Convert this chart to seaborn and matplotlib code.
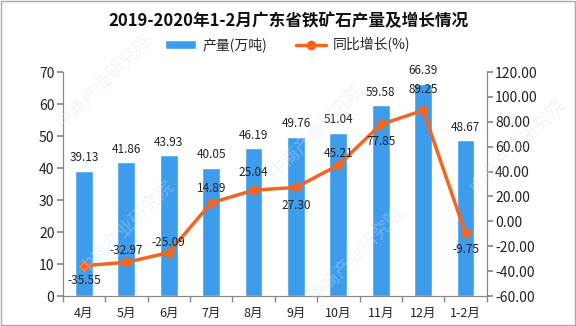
import numpy as np
import pandas as pd
import matplotlib
matplotlib.use("Agg")
import matplotlib.pyplot as plt
import seaborn as sns
from matplotlib.ticker import FixedLocator, FormatStrFormatter

sns.set_theme(style="white")
plt.rcParams['font.family'] = ['Noto Sans CJK SC', 'DejaVu Sans']
plt.rcParams['axes.unicode_minus'] = False

categories = ["4月", "5月", "6月", "7月", "8月", "9月", "10月", "11月", "12月", "1-2月"]
output = [39.13, 41.86, 43.93, 40.05, 46.19, 49.76, 51.04, 59.58, 66.39, 48.67]
growth = [-35.55, -32.97, -25.09, 14.89, 25.04, 27.30, 45.21, 77.85, 89.25, -9.75]
growth_label_offset = [-15, 12, 10, 14, 18, -18, 12, -17, 21, -16]

title = "2019-2020年1-2月广东省铁矿石产量及增长情况"
bar_name = "产量(万吨)"
line_name = "同比增长(%)"

bar_color = "#3d9cec"
line_color = "#f26522"
axis_color = "#888888"

df = pd.DataFrame({"month": categories, "output": output, "growth": growth})

fig = plt.figure(figsize=(5.76, 3.26), dpi=100)
ax = fig.add_axes([0.109, 0.092, 0.736, 0.687])

sns.barplot(data=df, x="month", y="output", color=bar_color, width=0.42,
            saturation=1, ax=ax, label=bar_name)
ax.set_ylim(0, 70)
ax.set_xlim(-0.5, len(categories) - 0.5)
ax.set_yticks(range(0, 71, 10))
ax.set_xlabel("")
ax.set_ylabel("")

ax2 = ax.twinx()
sns.lineplot(data=df, x="month", y="growth", sort=False, color=line_color,
             linewidth=2.5, marker="o", markersize=7, markeredgewidth=0,
             ax=ax2, label=line_name, legend=False)
ax2.set_ylim(-60, 120)
ax2.set_yticks(range(-60, 121, 20))
ax2.yaxis.set_major_formatter(FormatStrFormatter("%.2f"))
ax2.set_ylabel("")
ax2.set_xlabel("")

h1, l1 = ax.get_legend_handles_labels()
h2, l2 = ax2.get_legend_handles_labels()
if ax.get_legend() is not None:
    ax.get_legend().remove()
if ax2.get_legend() is not None:
    ax2.get_legend().remove()

# bar labels
for i, v in enumerate(output):
    ax.annotate(f"{v:.2f}", (i, v), xytext=(0, 13 * 0.72), textcoords="offset points",
                ha="center", va="center", fontsize=8.5, color="#222222")
# line labels
for i, (v, off) in enumerate(zip(growth, growth_label_offset)):
    ax2.annotate(f"{v:.2f}", (i, v), xytext=(0, off * 0.72), textcoords="offset points",
                 ha="center", va="center", fontsize=8.5, color="#222222")

for a in (ax, ax2):
    for s in a.spines.values():
        s.set_color(axis_color)
        s.set_linewidth(0.8)
    a.spines["top"].set_visible(False)
    a.grid(False)

ax.tick_params(axis="y", which="major", direction="out", length=4, color=axis_color,
               labelsize=10, labelcolor="#222222", left=True, pad=2)
ax2.tick_params(axis="y", which="major", direction="out", length=4, color=axis_color,
                labelsize=10, labelcolor="#222222", right=True, pad=2)
ax.tick_params(axis="x", which="major", length=0, labelsize=9, labelcolor="#222222", pad=8)
ax.xaxis.set_minor_locator(FixedLocator(np.arange(-0.5, len(categories), 1.0)))
ax.tick_params(axis="x", which="minor", direction="out", length=4, color=axis_color, bottom=True)

fig.text(0.5, 0.935, title, ha="center", va="center", fontsize=12, fontweight="bold", color="#111111")

fig.legend(h1 + h2, l1 + l2, loc="center", bbox_to_anchor=(0.5, 0.862), ncol=2,
           frameon=False, fontsize=10, handlelength=2.2, columnspacing=2.0, handletextpad=0.5)

# watermark
for (wx, wy) in [(0.18, 0.75), (0.22, 0.3), (0.55, 0.6), (0.62, 0.22), (0.9, 0.55)]:
    fig.text(wx, wy, "中商产业研究院", rotation=45, fontsize=13, color="#cfe3f3",
             alpha=0.35, ha="center", va="center", zorder=0)

fig.patches.append(plt.Rectangle((0.001, 0.002), 0.997, 0.995, transform=fig.transFigure,
                                 fill=False, edgecolor="#aaaaaa", linewidth=1))

fig.savefig("out.png", dpi=100)
